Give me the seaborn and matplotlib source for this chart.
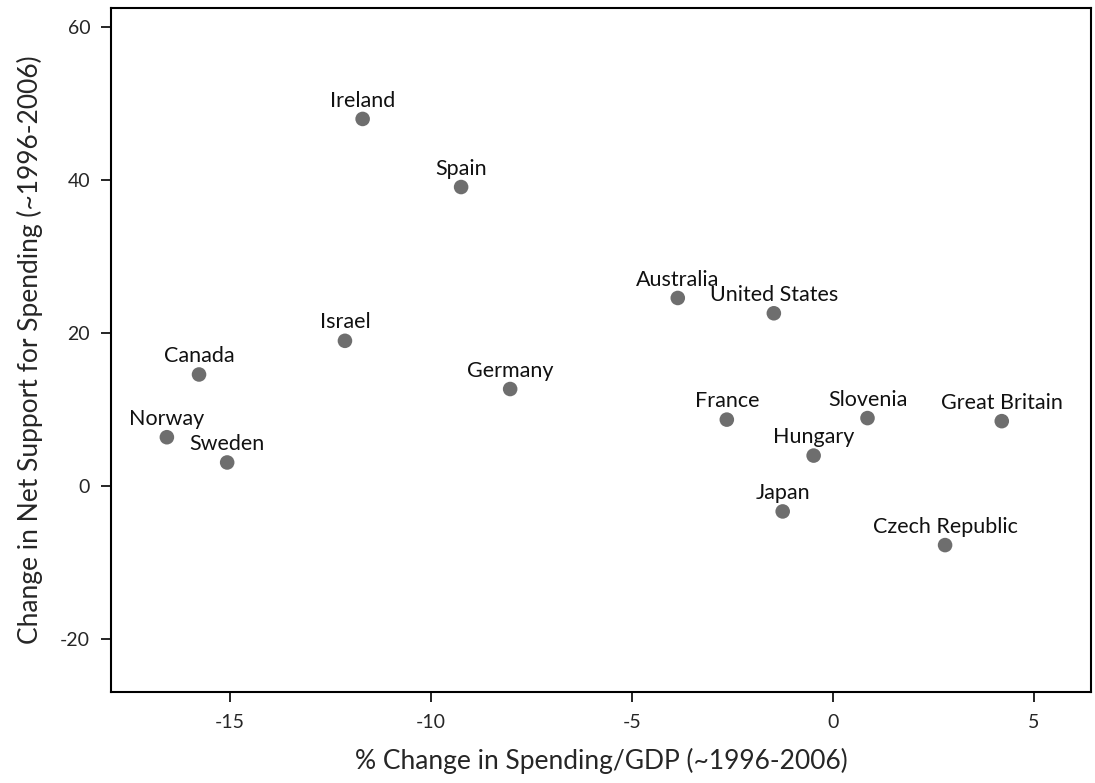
import matplotlib
matplotlib.use("Agg")
import matplotlib.pyplot as plt
import seaborn as sns
import pandas as pd

countries = ["Ireland", "Spain", "Australia", "United States", "Israel", "Canada",
             "Germany", "France", "Slovenia", "Great Britain", "Norway", "Hungary",
             "Sweden", "Japan", "Czech Republic"]
spending_change = [-11.7, -9.25, -3.86, -1.47, -12.14, -15.77, -8.03, -2.64, 0.86,
                   4.2, -16.57, -0.48, -15.07, -1.25, 2.79]
support_change = [48.0, 39.1, 24.6, 22.6, 19.0, 14.6, 12.7, 8.7, 8.9, 8.5, 6.4,
                  4.0, 3.1, -3.3, -7.7]
x_ticks = [-15, -10, -5, 0, 5]
y_ticks = [-20, 0, 20, 40, 60]

df = pd.DataFrame({"country": countries, "x": spending_change, "y": support_change})

sns.set_theme(style="white")
plt.rcParams["font.family"] = ["Lato", "DejaVu Sans"]

fig = plt.figure(figsize=(10.95, 7.83), dpi=100)
ax = fig.add_axes([111/1095, 1 - 692/783, (1091-111)/1095, (692-8)/783])

sns.scatterplot(data=df, x="x", y="y", ax=ax, color="#6e6e6e", s=110,
                edgecolor="none", zorder=3)

for _, r in df.iterrows():
    ax.annotate(r["country"], (r["x"], r["y"]), xytext=(0, 6),
                textcoords="offset points", ha="center", va="bottom",
                fontsize=15.5, color="#111111")

ax.set_xlim(-17.96, 6.42)
ax.set_ylim(-26.9, 62.5)
ax.set_xticks(x_ticks)
ax.set_yticks(y_ticks)
ax.set_xticklabels([str(t) for t in x_ticks])
ax.set_yticklabels([str(t) for t in y_ticks])
ax.tick_params(axis="both", which="major", direction="out", length=7, width=1.2,
               color="black", labelsize=14, bottom=True, left=True, pad=8)
ax.tick_params(axis="x", pad=9)
for s in ax.spines.values():
    s.set_visible(True)
    s.set_color("black")
    s.set_linewidth(1.5)

ax.set_xlabel("% Change in Spending/GDP (~1996-2006)", fontsize=19, labelpad=12)
ax.set_ylabel("Change in Net Support for Spending (~1996-2006)", fontsize=19, labelpad=12)

fig.savefig("out.png", dpi=100)
